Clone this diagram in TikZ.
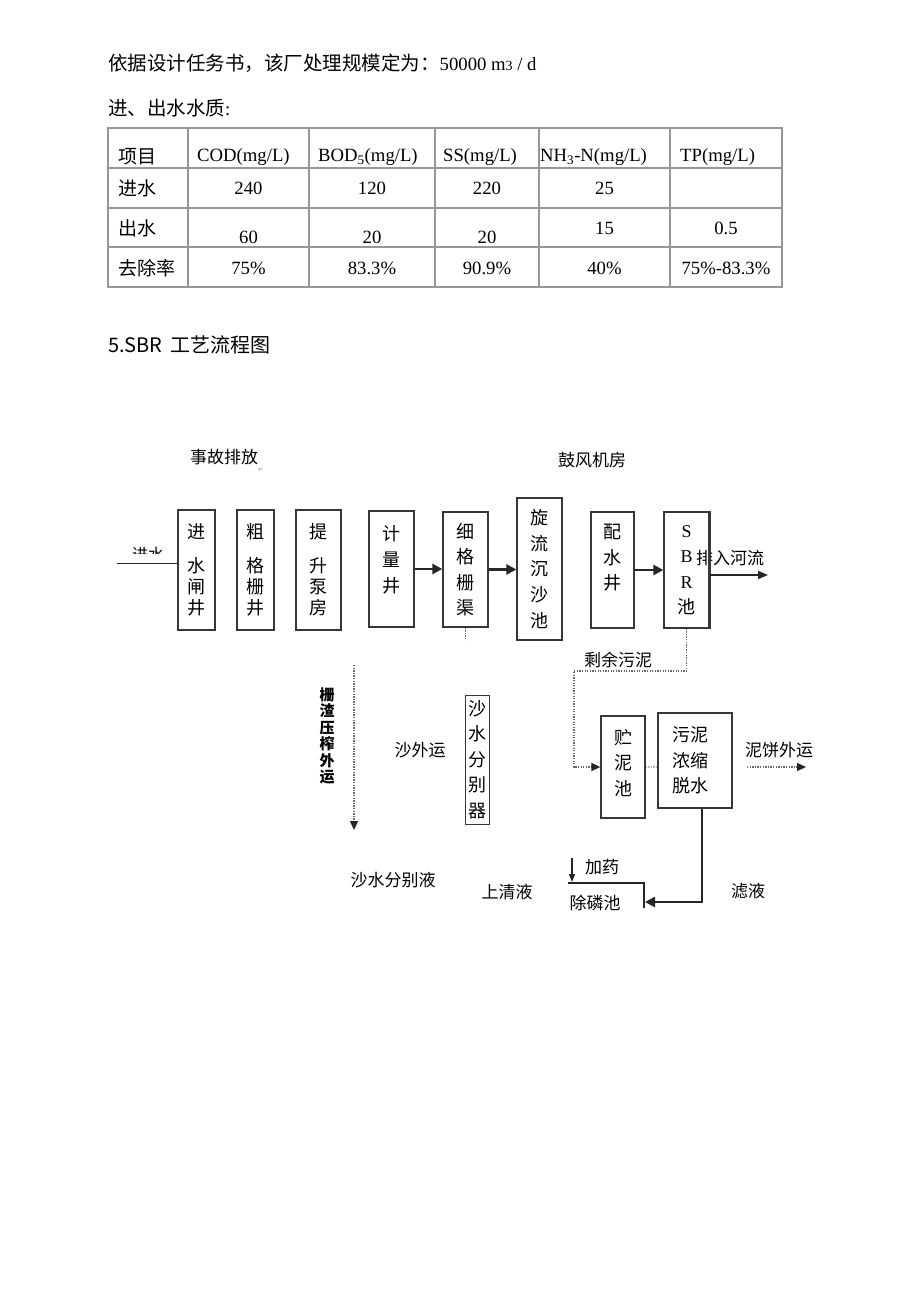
\documentclass[tikz,border=0pt]{standalone}
\usepackage{fontspec}
\setmainfont{Liberation Serif}
\newfontfamily\cjk{Noto Sans CJK SC}
\newfontfamily\symfont{DejaVu Sans}
\usetikzlibrary{arrows.meta, positioning, calc}
\definecolor{boxline}{RGB}{55, 55, 55}
\definecolor{rulegray}{RGB}{150, 150, 150}
\definecolor{dotgray}{RGB}{105, 105, 105}

\begin{document}
\begin{tikzpicture}[
    x=1pt, y=-1pt,
    stage/.style={rectangle, draw=boxline, line width=1.3pt, inner sep=0pt, align=center, font=\cjk\fontsize{18}{25.5}\selectfont},
    tallstage/.style={stage, font=\cjk\fontsize{18}{21}\selectfont},
    lbl/.style={inner sep=0pt, font=\cjk\fontsize{17}{20}\selectfont},
    textline/.style={inner sep=0pt, anchor=west, font=\fontsize{18.7}{22}\selectfont},
    cjkcell/.style={inner sep=0pt, anchor=west, font=\cjk\fontsize{19}{22}\selectfont},
    numcell/.style={inner sep=0pt, font=\fontsize{18.7}{22}\selectfont},
    tablerule/.style={line width=1.2pt, draw=rulegray},
    flow/.style={line width=2.5pt, draw=black!85, -{Triangle[length=10pt,width=10pt]}},
    pipe/.style={line width=1.5pt, draw=black!85},
    sludge/.style={line width=1.4pt, draw=dotgray, dash pattern=on 1.3pt off 1.3pt},
    dottip/.style={-{Triangle[length=9pt,width=8pt,color=black!85]}}
]
    % page
    \fill[white] (0,0) rectangle (920,1301);
    \useasboundingbox (0,0) rectangle (920,1301);

    % text and table
    \node[textline] (scale) at (108,63) {{\cjk\fontsize{19.5}{22}\selectfont 依据设计任务书，该厂处理规模定为：}50000 m{\fontsize{14}{16}\selectfont 3} / d};
    \node[textline] (quality) at (108,108) {{\cjk\fontsize{19.5}{22}\selectfont 进、出水水质}:};

    \draw[tablerule] (108,128) rectangle (782,287);
    \draw[tablerule] (108,168) -- (782,168) (108,208) -- (782,208) (108,247) -- (782,247);
    \draw[tablerule] (188,128) -- (188,287) (309,128) -- (309,287) (435,128) -- (435,287)
                     (539,128) -- (539,287) (670,128) -- (670,287);

    \node[cjkcell] (hitem) at (118,157) {项目};
    \node[numcell, anchor=west] (hcod) at (197,157) {COD(mg/L)};
    \node[numcell, anchor=west] (hbod) at (318,157) {BOD\textsubscript{5}(mg/L)};
    \node[numcell, anchor=west] (hss) at (443,157) {SS(mg/L)};
    \node[numcell, anchor=west] (hnh) at (540,157) {NH\textsubscript{3}-N(mg/L)};
    \node[numcell, anchor=west] (htp) at (680,157) {TP(mg/L)};

    \node[cjkcell] (rin) at (118,188) {进水};
    \node[numcell] (incod) at (248.5,188) {240};
    \node[numcell] (inbod) at (372,188) {120};
    \node[numcell] (inss) at (487,188) {220};
    \node[numcell] (innh) at (604.5,188) {25};

    \node[cjkcell] (rout) at (118,228) {出水};
    \node[numcell] (outcod) at (248.5,237) {60};
    \node[numcell] (outbod) at (372,237) {20};
    \node[numcell] (outss) at (487,237) {20};
    \node[numcell] (outnh) at (604.5,228) {15};
    \node[numcell] (outtp) at (726,228) {0.5};

    \node[cjkcell] (rrate) at (118,268) {去除率};
    \node[numcell] (ratecod) at (248.5,268) {75\%};
    \node[numcell] (ratebod) at (372,268) {83.3\%};
    \node[numcell] (ratess) at (487,268) {90.9\%};
    \node[numcell] (ratenh) at (604.5,268) {40\%};
    \node[numcell] (ratetp) at (726,268) {75\%-83.3\%};

    \node[inner sep=0pt, anchor=west, font=\cjk\fontsize{20}{22}\selectfont] (title) at (108,345) {5.SBR\kern8pt 工艺流程图};

    % process units
    \node[tallstage, minimum width=37pt, minimum height=120pt] (inlet) at (196.5,570) {进\\[13pt]水\\闸\\井};
    \node[tallstage, minimum width=37pt, minimum height=120pt] (coarse) at (255.5,570) {粗\\[13pt]格\\栅\\井};
    \node[tallstage, minimum width=45pt, minimum height=120pt] (pump) at (318.5,570) {提\\[13pt]升\\泵\\房};
    \node[stage, minimum width=45pt, minimum height=116pt, font=\cjk\fontsize{18}{26}\selectfont] (meter) at (391.5,569) {计\\量\\井\\[-6pt]\mbox{}};
    \node[stage, minimum width=45pt, minimum height=115pt] (fine) at (465.5,569.5) {细\\格\\栅\\渠};
    \node[stage, minimum width=45pt, minimum height=142pt, font=\cjk\fontsize{18}{25.8}\selectfont] (grit) at (539.5,569) {旋\\流\\沉\\沙\\池};
    \node[stage, minimum width=43pt, minimum height=116pt] (distrib) at (612.5,570) {配\\水\\井\\\mbox{}};
    \node[stage, minimum width=45pt, minimum height=116pt] (sbr) at (686.5,570) {{\rmfamily S}\\{\rmfamily B}\\{\rmfamily R}\\池};
    \node[stage, minimum width=24pt, minimum height=129pt, line width=1pt] (separator) at (477,759.5) {沙\\水\\分\\别\\器};
    \node[stage, minimum width=44pt, minimum height=102pt] (storage) at (623,767) {贮\\泥\\池\\[-15.5pt]\mbox{}};
    \node[stage, minimum width=74pt, minimum height=95pt, line width=2pt, text width=46pt, align=left] (dewater) at (695,760.5) {污泥\\浓缩\\脱水};

    % labels
    \node[lbl] (bypass) at (224,457) {事故排放};
    \node[inner sep=0pt, text=gray, font=\symfont\fontsize{6}{6}\selectfont] (mark) at (261,470) {↵};
    \node[lbl] (blower) at (592,460) {鼓风机房};
    \begin{scope}
        \clip (110,535) rectangle (180,553);
        \node[lbl, font=\cjk\fontsize{16}{18}\selectfont] (inlabel) at (148,554) {进水};
    \end{scope}
    \node[lbl] (river) at (730,558) {排入河流};
    \node[lbl] (excess) at (618,660) {剩余污泥};
    \node[lbl, align=center, font=\cjk\bfseries\fontsize{15}{16.4}\selectfont] (screenings) at (327,736) {栅\\渣\\压\\榨\\外\\运};
    \node[lbl] (sandout) at (420,750) {沙外运};
    \node[lbl] (cakeout) at (779,750) {泥饼外运};
    \node[lbl] (dosing) at (602,867) {加药};
    \node[lbl] (sandliquor) at (393,880) {沙水分别液};
    \node[lbl] (supernatant) at (507,892) {上清液};
    \node[lbl] (tank) at (595,903) {除磷池};
    \node[lbl] (filtrate) at (748,891) {滤液};

    % main line
    \coordinate (inflow) at (117,563);
    \draw[pipe, line width=1pt] (inflow) -- (inflow -| inlet.west);
    \draw[flow] (meter.east) -- (meter.east -| fine.west);
    \draw[flow] (fine.east) -- (fine.east -| grit.west);
    \draw[flow] (distrib.east) -- (distrib.east -| sbr.west);
    \draw[line width=2.5pt, boxline] (sbr.north east) -- (sbr.south east);
    \coordinate (outfall) at (768,575);
    \draw[pipe, -{Triangle[length=10pt,width=8pt]}] (outfall -| sbr.east) -- (outfall);

    % sludge and screenings
    \coordinate (sludgebend) at (574,671);
    \draw[sludge, dottip] (sbr.south) |- (sludgebend) |- (storage.west);
    \draw[sludge] (fine.south) -- ++(0,13);
    \coordinate (screentop) at (354,665);
    \coordinate (screenend) at (354,830);
    \draw[sludge, dottip] (screentop) -- (screenend);
    \draw[sludge, draw=dotgray!45] (storage.east) -- (storage.east -| dewater.west);
    \coordinate (cakestart) at (747,767);
    \coordinate (cakeend) at (806,767);
    \draw[sludge, dottip] (cakestart) -- (cakeend);

    % filtrate to phosphorus removal
    \coordinate (tankin) at (645,902);
    \draw[flow] ([xshift=7pt]dewater.south) |- (tankin);
    \draw[pipe] (568,883) -| (644,908);
    \coordinate (dosetop) at (572,858);
    \coordinate (dosein) at (572,882);
    \draw[pipe, -{Triangle[length=8pt,width=6pt]}] (dosetop) -- (dosein);

\end{tikzpicture}
\end{document}
